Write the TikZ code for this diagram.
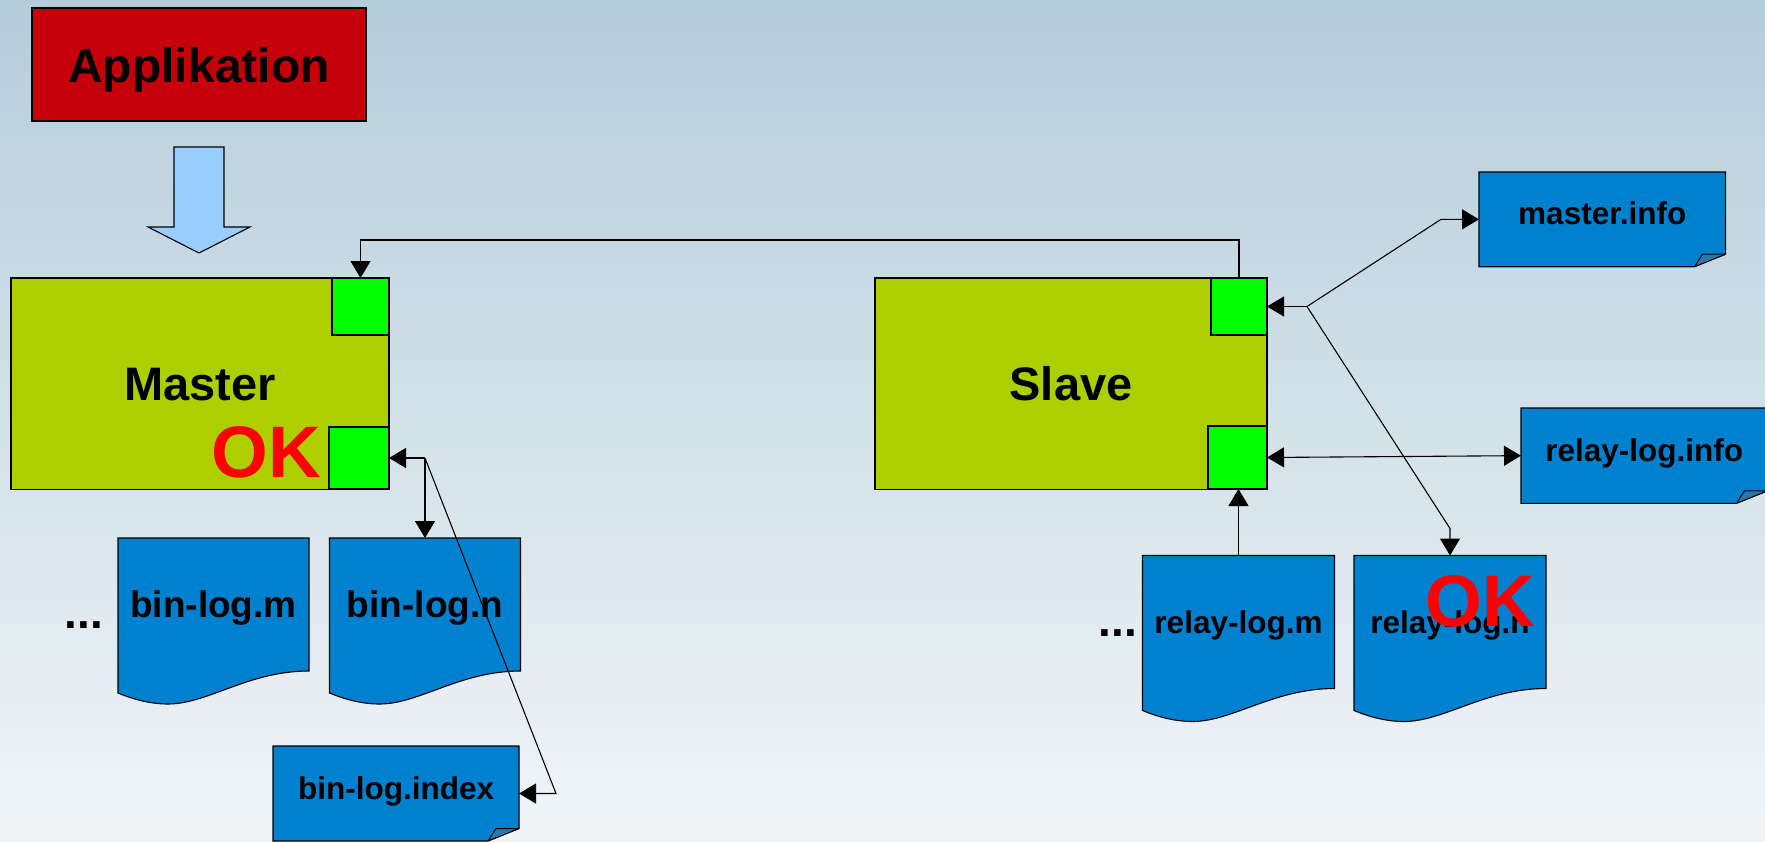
\documentclass[tikz,border=0pt]{standalone}
\usepackage{fontspec}
\setmainfont{Liberation Sans}
\usetikzlibrary{arrows.meta,calc}
\definecolor{bgtop}{HTML}{B4CDDA}
\definecolor{bgbot}{HTML}{F1F5F8}
\definecolor{appred}{HTML}{C5000B}
\definecolor{olive}{HTML}{ADCF00}
\definecolor{portgreen}{HTML}{00FF00}
\definecolor{docblue}{HTML}{0081CF}
\definecolor{foldblue}{HTML}{2A78B0}
\definecolor{arrowblue}{HTML}{99CCFF}
\definecolor{okred}{HTML}{FF0000}
\newcommand\myfs[1]{\fontsize{#1}{#1}\selectfont\bfseries}
\newcommand\mydoc[1]{%
  \filldraw[docstyle] (#1.north west) -- (#1.north east) -- ($(#1.north east)+(0,133)$)
    .. controls ($(#1.north east)+(-61,133)$) and ($(#1.north west)+(90,166)$) .. ($(#1.north west)+(50,166)$)
    .. controls ($(#1.north west)+(30,166)$) and ($(#1.north west)+(12,160)$) .. ($(#1.north west)+(0,155)$) -- cycle;}
\newcommand\myfold[1]{%
  \filldraw[docstyle] (#1.north west) -- (#1.north east) -- ($(#1.south east)+(0,-12.5)$)
    -- ($(#1.south east)+(-31,0)$) -- (#1.south west) -- cycle;
  \filldraw[foldstyle] ($(#1.south east)+(-31,0)$) -- ($(#1.south east)+(-23,-12.5)$)
    -- ($(#1.south east)+(0,-12.5)$) -- cycle;}
\begin{document}
\begin{tikzpicture}[x=1pt,y=-1pt,
  line width=1.1pt,
  box/.style={rectangle, inner sep=0pt, outer sep=0pt, anchor=north west, draw=black, line width=1.2pt},
  appbox/.style={box, fill=appred, font=\myfs{48}, text height=35pt, text depth=0pt},
  nodebox/.style={box, fill=olive, font=\myfs{47}, text height=34pt, text depth=0pt},
  port/.style={box, fill=portgreen},
  docnode/.style={rectangle, inner sep=0pt, outer sep=0pt, anchor=north, minimum width=191pt, minimum height=166pt},
  foldnode/.style={rectangle, inner sep=0pt, outer sep=0pt, anchor=north west},
  docstyle/.style={fill=docblue, draw=black, line width=1.1pt},
  foldstyle/.style={fill=foldblue, draw=black, line width=1pt, line join=round},
  bigtext/.style={font=\myfs{37}, anchor=base, inner sep=0pt},
  smalltext/.style={font=\myfs{31.5}, anchor=base, inner sep=0pt},
  oktext/.style={font=\myfs{73}, text=okred, anchor=base, inner sep=0pt},
  dotstext/.style={font=\myfs{46}, anchor=base, inner sep=0pt},
  arr/.style={-{Triangle[length=17pt,width=20pt]}, line width=1.1pt},
  darr/.style={{Triangle[length=17pt,width=20pt]}-{Triangle[length=17pt,width=20pt]}, line width=1.1pt},
]
\useasboundingbox (0,0) rectangle (1765,841);
\clip (0,0) rectangle (1765,841);
\shade[top color=bgtop, bottom color=bgbot] (0,0) rectangle (1765,841);

% Application and block arrow
\node[appbox, minimum width=334pt, minimum height=113pt] (app) at (32,8) {Applikation};
\filldraw[fill=arrowblue, draw=black, line width=1.1pt]
  (174,147) -- (224,147) -- (224,227) -- (250,227) -- (199,253) -- (148,227) -- (174,227) -- cycle;

% Master
\node[nodebox, minimum width=378pt, minimum height=211.5pt] (master) at (11,278) {Master};
\node[port, minimum width=57pt, minimum height=57pt] (mU) at (332,278) {};
\node[port, minimum width=60pt, minimum height=62pt] (mL) at (329,427) {};
\node[oktext] (okM) at (266.5,477.5) {OK};

% Slave
\node[nodebox, minimum width=392pt, minimum height=211.5pt] (slave) at (875,278) {Slave};
\node[port, minimum width=56pt, minimum height=57pt] (sU) at (1211,278) {};
\node[port, minimum width=59pt, minimum height=63pt] (sL) at (1208,426) {};

% Binary logs
\node[docnode] (binm) at (213.5,538) {};
\mydoc{binm}
\node[bigtext] (binmT) at ($(binm.north)+(0,79.5)$) {bin-log.m};
\node[docnode] (binn) at (425,538) {};
\mydoc{binn}
\node[bigtext] (binnT) at ($(binn.north)+(0,79.5)$) {bin-log.n};
\node[dotstext] (dotsL) at (84,628) {...};

% Relay logs
\node[docnode, minimum width=192pt] (relm) at (1238.5,555.5) {};
\mydoc{relm}
\node[smalltext] (relmT) at ($(relm.north)+(0,78)$) {relay-log.m};
\node[docnode, minimum width=192pt] (reln) at (1450,555.5) {};
\mydoc{reln}
\node[smalltext] (relnT) at ($(reln.north)+(0,78)$) {relay-log.n};
\node[dotstext] (dotsR) at (1118,636) {...};
\node[oktext] (okR) at (1480,626) {OK};

% Info files
\node[foldnode, minimum width=246.5pt, minimum height=94.7pt] (minfo) at (1479,172) {};
\myfold{minfo}
\node[smalltext] (minfoT) at ($(minfo.north)+(0,52)$) {master.info};
\node[foldnode, minimum width=246.5pt, minimum height=95.3pt] (rinfo) at (1521,408) {};
\myfold{rinfo}
\node[smalltext] (rinfoT) at ($(rinfo.north)+(0,53.7)$) {relay-log.info};
\node[foldnode, minimum width=246pt, minimum height=95pt] (idx) at (273,746) {};
\myfold{idx}
\node[smalltext] (idxT) at ($(idx.north)+(0,53)$) {bin-log.index};

% Connectors
\draw[arr] (sU.north) -- ++(0,-38) -| (mU.north);
\coordinate (J1) at (binn.north |- mL.east);
\coordinate (J2) at ($(idx.east)+(37,0)$);
\draw[arr] (J1) -- (mL.east);
\draw[arr] (J1) -- (binn.north);
\draw[arr] (J1) -- (J2) -- (idx.east);
\coordinate (J3) at ($(sU.east)+(40,0)$);
\coordinate (J4) at ($(minfo.west)+(-38,0)$);
\coordinate (J5) at ($(reln.north)+(0,-27)$);
\draw[arr] (J3) -- (sU.east);
\draw[arr] (J3) -- (J4) -- (minfo.west);
\draw[arr] (J3) -- (J5) -- (reln.north);
\draw[darr] (sL.east) -- (rinfo.west);
\draw[arr] (relm.north) -- (relm.north |- sL.south);
\end{tikzpicture}
\end{document}
